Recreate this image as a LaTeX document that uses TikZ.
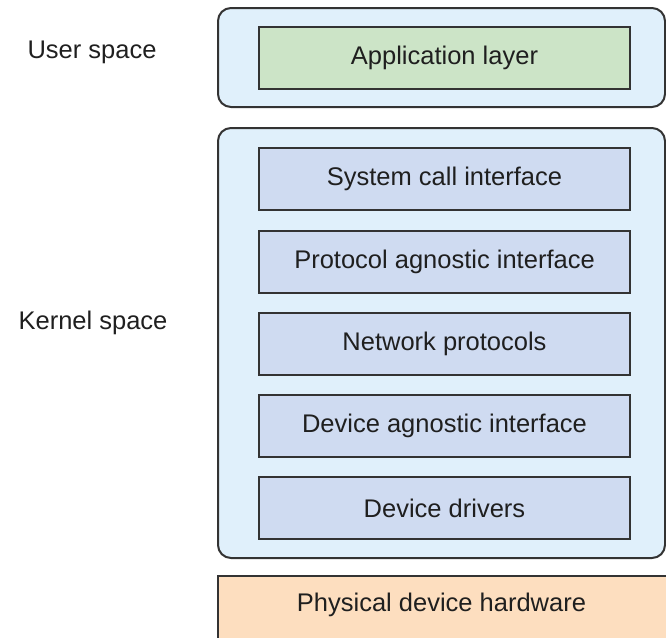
\documentclass[tikz,border=0pt]{standalone}
\usepackage{fontspec}
\setmainfont{Liberation Sans}
\definecolor{spacebg}{HTML}{E0F0FB}
\definecolor{appbg}{HTML}{CCE4C7}
\definecolor{kbg}{HTML}{CFDBF1}
\definecolor{hwbg}{HTML}{FDDEBF}
\definecolor{edge}{HTML}{333333}
\begin{document}
\begin{tikzpicture}[x=1pt,y=-1pt,
  spacebox/.style={draw=edge,line width=2pt,fill=spacebg,rounded corners=13pt},
  layerbox/.style={draw=edge,line width=2pt,fill=kbg,minimum width=371pt,minimum height=62pt,inner sep=0pt,
     font=\fontsize{25.5}{28}\selectfont,text=black!88},
  lbl/.style={font=\fontsize{25.5}{28}\selectfont,text=black!88}]
\useasboundingbox (0,0) rectangle (666,637);
\clip (0,0) rectangle (666,637);
\draw[spacebox] (218,8) rectangle (665,107);
\draw[spacebox] (218,128) rectangle (665,558);
\node[layerbox,fill=appbg] (app) at (444.5,57.5) {Application layer};
\node[layerbox] (sci) at (444.5,179) {System call interface};
\node[layerbox] (pai) at (444.5,261.5) {Protocol agnostic interface};
\node[layerbox] (np) at (444.5,343.5) {Network protocols};
\node[layerbox] (dai) at (444.5,426) {Device agnostic interface};
\node[layerbox] (dd) at (444.5,508) {Device drivers};
\draw[draw=edge,line width=2pt,fill=hwbg] (218,576) rectangle (670,645);
\node[lbl] (hw) at (441.5,605) {Physical device hardware};
\node[lbl] (us) at (92,52) {User space};
\node[lbl] (ks) at (93,323) {Kernel space};
\end{tikzpicture}
\end{document}
